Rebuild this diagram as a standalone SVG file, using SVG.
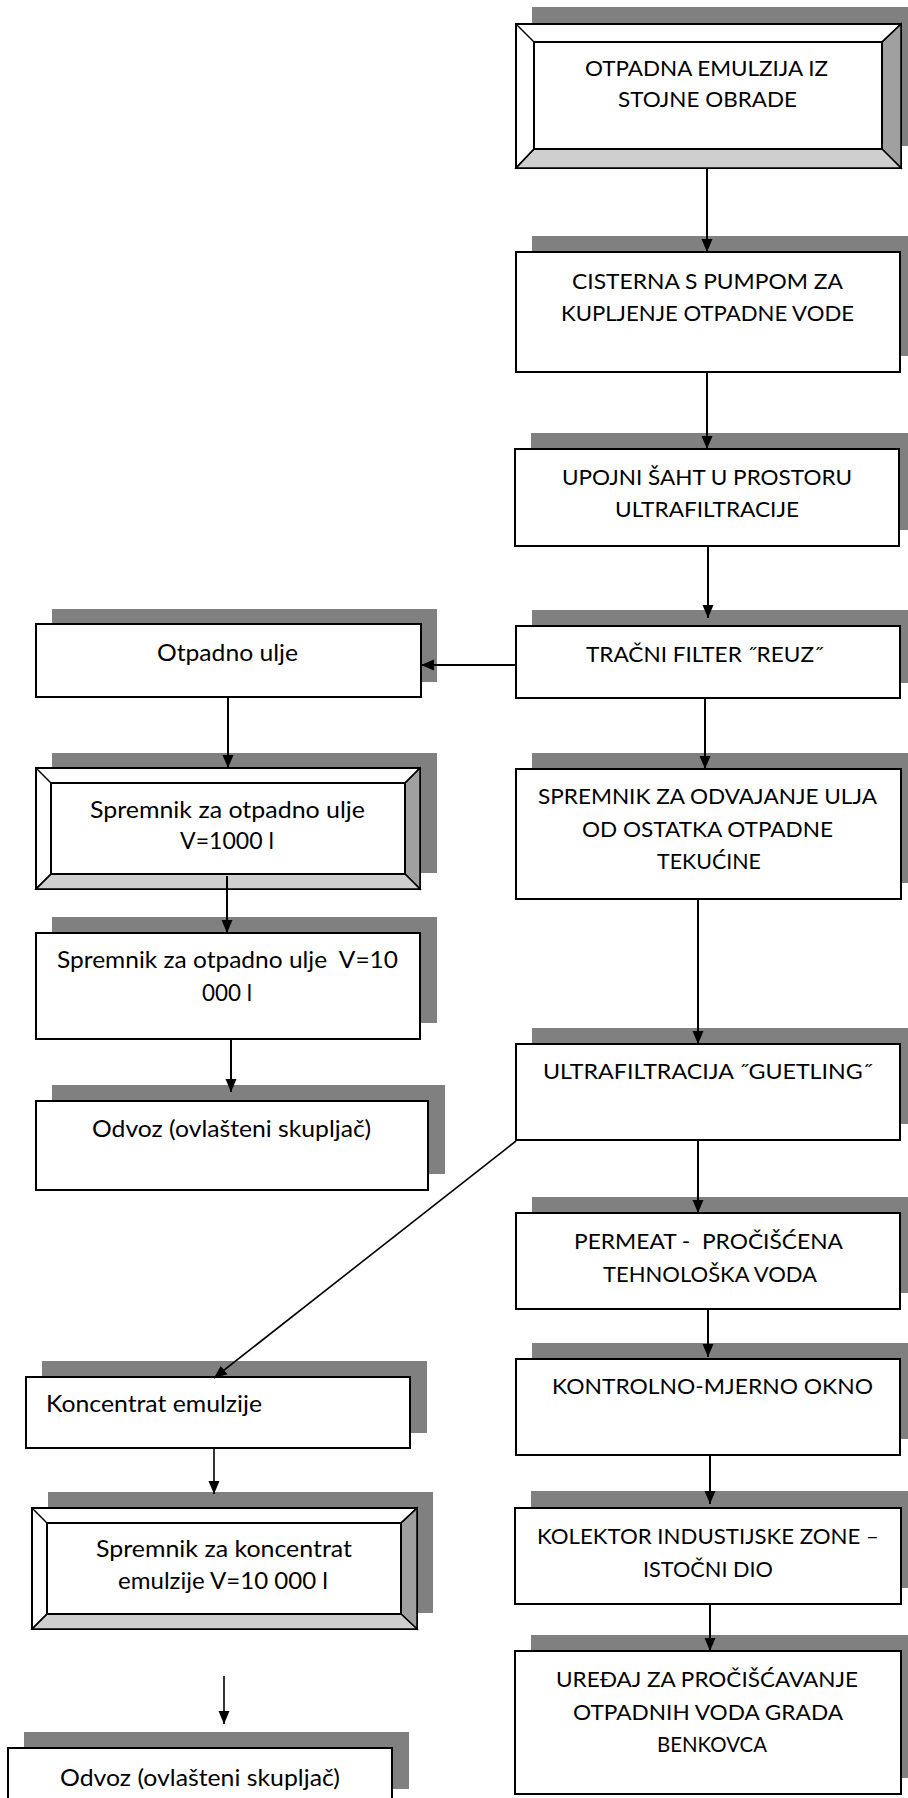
<svg xmlns="http://www.w3.org/2000/svg" width="908" height="1798" viewBox="0 0 908 1798">
<defs>
<style>
.sh{fill:#808080}
.bx{fill:#fff;stroke:#000;stroke-width:2}
.in{fill:none;stroke:#000;stroke-width:2}
.bv{stroke:#000;stroke-width:1.5}
.br{fill:#a0a0a0;stroke:#000;stroke-width:1.5}
.bb{fill:#cfcfcf;stroke:#000;stroke-width:1.5}
.t{font-family:Lato,"Liberation Sans",Arial,sans-serif;font-size:21px;fill:#000}
.tl{font-family:Lato,"Liberation Sans",Arial,sans-serif;font-size:23px;fill:#000}
.c{fill:none;stroke:#000;stroke-width:2}
.c2{fill:none;stroke:#000;stroke-width:1.6}
</style>
<marker id="ah" viewBox="0 0 13 12" refX="13" refY="6" markerWidth="13" markerHeight="12" markerUnits="userSpaceOnUse" orient="auto">
<path d="M0,0.5 L13,6 L0,11.5 Z" fill="#000"/>
</marker>
</defs>

<g id="n1">
<rect class="sh" x="532" y="7" width="385" height="139"/>
<rect class="bx" x="516" y="24" width="385" height="144"/>
<polygon class="br" points="901,24 901,168 882,149 882,42"/>
<polygon class="bb" points="516,168 901,168 882,149 534,149"/>
<line class="bv" x1="516" y1="24" x2="534" y2="42"/>
<line class="bv" x1="901" y1="24" x2="882" y2="42"/>
<line class="bv" x1="516" y1="168" x2="534" y2="149"/>
<rect class="in" x="534" y="42" width="348" height="107"/>
<text class="t" x="585" y="76" textLength="243" lengthAdjust="spacingAndGlyphs">OTPADNA EMULZIJA IZ</text>
<text class="t" x="618" y="107" textLength="179" lengthAdjust="spacingAndGlyphs">STOJNE OBRADE</text>
</g>

<g id="n2">
<rect class="sh" x="532" y="236" width="385" height="120"/>
<rect class="bx" x="516" y="252" width="384" height="120"/>
<text class="t" x="572" y="289" textLength="271" lengthAdjust="spacingAndGlyphs">CISTERNA S PUMPOM ZA</text>
<text class="t" x="561" y="321" textLength="293" lengthAdjust="spacingAndGlyphs">KUPLJENJE OTPADNE VODE</text>
</g>

<g id="n3">
<rect class="sh" x="531" y="433" width="385" height="97"/>
<rect class="bx" x="515" y="449" width="384" height="97"/>
<text class="t" x="562" y="485" textLength="290" lengthAdjust="spacingAndGlyphs">UPOJNI ŠAHT U PROSTORU</text>
<text class="t" x="615" y="517" textLength="184" lengthAdjust="spacingAndGlyphs">ULTRAFILTRACIJE</text>
</g>

<g id="n4">
<rect class="sh" x="532" y="610" width="385" height="73"/>
<rect class="bx" x="516" y="626" width="384" height="72"/>
<text class="t" x="586" y="662" textLength="237" lengthAdjust="spacingAndGlyphs">TRAČNI FILTER ˝REUZ˝</text>
</g>

<g id="n5">
<rect class="sh" x="52" y="609" width="385" height="73"/>
<rect class="bx" x="36" y="624" width="385" height="73"/>
<text class="tl" x="157" y="661" textLength="141" lengthAdjust="spacingAndGlyphs">Otpadno ulje</text>
</g>

<g id="n6">
<rect class="sh" x="52" y="753" width="385" height="120"/>
<rect class="bx" x="36" y="768" width="384" height="121"/>
<polygon class="br" points="420,768 420,889 405,874 405,783"/>
<polygon class="bb" points="36,889 420,889 405,874 51,874"/>
<line class="bv" x1="36" y1="768" x2="51" y2="783"/>
<line class="bv" x1="420" y1="768" x2="405" y2="783"/>
<line class="bv" x1="36" y1="889" x2="51" y2="874"/>
<rect class="in" x="51" y="783" width="354" height="91"/>
<text class="tl" x="90" y="818" textLength="275" lengthAdjust="spacingAndGlyphs">Spremnik za otpadno ulje</text>
<text class="tl" x="180" y="849" textLength="94" lengthAdjust="spacingAndGlyphs">V=1000 l</text>
</g>

<g id="n7">
<rect class="sh" x="52" y="917" width="385" height="106"/>
<rect class="bx" x="36" y="933" width="384" height="106"/>
<text class="tl" x="57" y="968" textLength="341" lengthAdjust="spacingAndGlyphs" xml:space="preserve">Spremnik za otpadno ulje  V=10</text>
<text class="tl" x="202" y="1001" textLength="50" lengthAdjust="spacingAndGlyphs">000 l</text>
</g>

<g id="n8">
<rect class="sh" x="52" y="1085" width="393" height="89"/>
<rect class="bx" x="36" y="1101" width="392" height="89"/>
<text class="tl" x="92" y="1137" textLength="279" lengthAdjust="spacingAndGlyphs">Odvoz (ovlašteni skupljač)</text>
</g>

<g id="n9">
<rect class="sh" x="532" y="753" width="385" height="130"/>
<rect class="bx" x="516" y="769" width="385" height="130"/>
<text class="t" x="538" y="804" textLength="339" lengthAdjust="spacingAndGlyphs">SPREMNIK ZA ODVAJANJE ULJA</text>
<text class="t" x="582" y="837" textLength="251" lengthAdjust="spacingAndGlyphs">OD OSTATKA OTPADNE</text>
<text class="t" x="657" y="869" textLength="104" lengthAdjust="spacingAndGlyphs">TEKUĆINE</text>
</g>

<g id="n10">
<rect class="sh" x="532" y="1028" width="385" height="96"/>
<rect class="bx" x="516" y="1044" width="384" height="96"/>
<text class="t" x="543" y="1079" textLength="329" lengthAdjust="spacingAndGlyphs">ULTRAFILTRACIJA ˝GUETLING˝</text>
</g>

<g id="n11">
<rect class="sh" x="532" y="1197" width="385" height="96"/>
<rect class="bx" x="516" y="1213" width="384" height="96"/>
<text class="t" x="574" y="1249" textLength="269" lengthAdjust="spacingAndGlyphs" xml:space="preserve">PERMEAT -  PROČIŠĆENA</text>
<text class="t" x="603" y="1282" textLength="214" lengthAdjust="spacingAndGlyphs">TEHNOLOŠKA VODA</text>
</g>

<g id="n12">
<rect class="sh" x="532" y="1343" width="385" height="96"/>
<rect class="bx" x="516" y="1359" width="384" height="96"/>
<text class="t" x="552" y="1394" textLength="321" lengthAdjust="spacingAndGlyphs">KONTROLNO-MJERNO OKNO</text>
</g>

<g id="n13">
<rect class="sh" x="531" y="1491" width="386" height="97"/>
<rect class="bx" x="515" y="1508" width="386" height="96"/>
<text class="t" x="537" y="1544" textLength="342" lengthAdjust="spacingAndGlyphs">KOLEKTOR INDUSTIJSKE ZONE –</text>
<text class="t" x="643" y="1577" textLength="130" lengthAdjust="spacingAndGlyphs">ISTOČNI DIO</text>
</g>

<g id="n14">
<rect class="sh" x="531" y="1635" width="386" height="143"/>
<rect class="bx" x="515" y="1651" width="386" height="143"/>
<text class="t" x="556" y="1687" textLength="302" lengthAdjust="spacingAndGlyphs">UREĐAJ ZA PROČIŠĆAVANJE</text>
<text class="t" x="573" y="1720" textLength="270" lengthAdjust="spacingAndGlyphs">OTPADNIH VODA GRADA</text>
<text class="t" x="657" y="1752" textLength="110" lengthAdjust="spacingAndGlyphs">BENKOVCA</text>
</g>

<g id="n15">
<rect class="sh" x="42" y="1361" width="385" height="72"/>
<rect class="bx" x="26" y="1377" width="384" height="71"/>
<text class="tl" x="46" y="1412" textLength="216" lengthAdjust="spacingAndGlyphs">Koncentrat emulzije</text>
</g>

<g id="n16">
<rect class="sh" x="48" y="1492" width="385" height="121"/>
<rect class="bx" x="32" y="1508" width="385" height="121"/>
<polygon class="br" points="417,1508 417,1629 401,1614 401,1523"/>
<polygon class="bb" points="32,1629 417,1629 401,1614 47,1614"/>
<line class="bv" x1="32" y1="1508" x2="47" y2="1523"/>
<line class="bv" x1="417" y1="1508" x2="401" y2="1523"/>
<line class="bv" x1="32" y1="1629" x2="47" y2="1614"/>
<rect class="in" x="47" y="1523" width="354" height="91"/>
<text class="tl" x="96" y="1557" textLength="256" lengthAdjust="spacingAndGlyphs">Spremnik za koncentrat</text>
<text class="tl" x="118" y="1589" textLength="210" lengthAdjust="spacingAndGlyphs">emulzije V=10 000 l</text>
</g>

<g id="n17">
<rect class="sh" x="24" y="1732" width="385" height="57"/>
<rect class="bx" x="8" y="1748" width="384" height="60"/>
<text class="tl" x="60" y="1786" textLength="280" lengthAdjust="spacingAndGlyphs">Odvoz (ovlašteni skupljač)</text>
</g>

<g id="connectors">
<line class="c" x1="707" y1="169" x2="707" y2="252" marker-end="url(#ah)"/>
<line class="c" x1="707" y1="373" x2="707" y2="449" marker-end="url(#ah)"/>
<line class="c" x1="708" y1="547" x2="708" y2="618" marker-end="url(#ah)"/>
<line class="c" x1="515" y1="665" x2="421" y2="665" marker-end="url(#ah)"/>
<line class="c" x1="228" y1="698" x2="228" y2="768" marker-end="url(#ah)"/>
<line class="c" x1="227" y1="876" x2="227" y2="933" marker-end="url(#ah)"/>
<line class="c" x1="231" y1="1040" x2="231" y2="1092" marker-end="url(#ah)"/>
<line class="c" x1="705" y1="699" x2="705" y2="769" marker-end="url(#ah)"/>
<line class="c" x1="698" y1="900" x2="698" y2="1044" marker-end="url(#ah)"/>
<line class="c2" x1="516" y1="1141" x2="214" y2="1378" marker-end="url(#ah)"/>
<line class="c" x1="698" y1="1141" x2="698" y2="1213" marker-end="url(#ah)"/>
<line class="c" x1="708" y1="1310" x2="708" y2="1357" marker-end="url(#ah)"/>
<line class="c" x1="710" y1="1456" x2="710" y2="1504" marker-end="url(#ah)"/>
<line class="c2" x1="214" y1="1449" x2="214" y2="1494" marker-end="url(#ah)"/>
<line class="c2" x1="224" y1="1676" x2="224" y2="1724" marker-end="url(#ah)"/>
<line class="c" x1="710" y1="1605" x2="710" y2="1651" marker-end="url(#ah)"/>
</g>
</svg>
